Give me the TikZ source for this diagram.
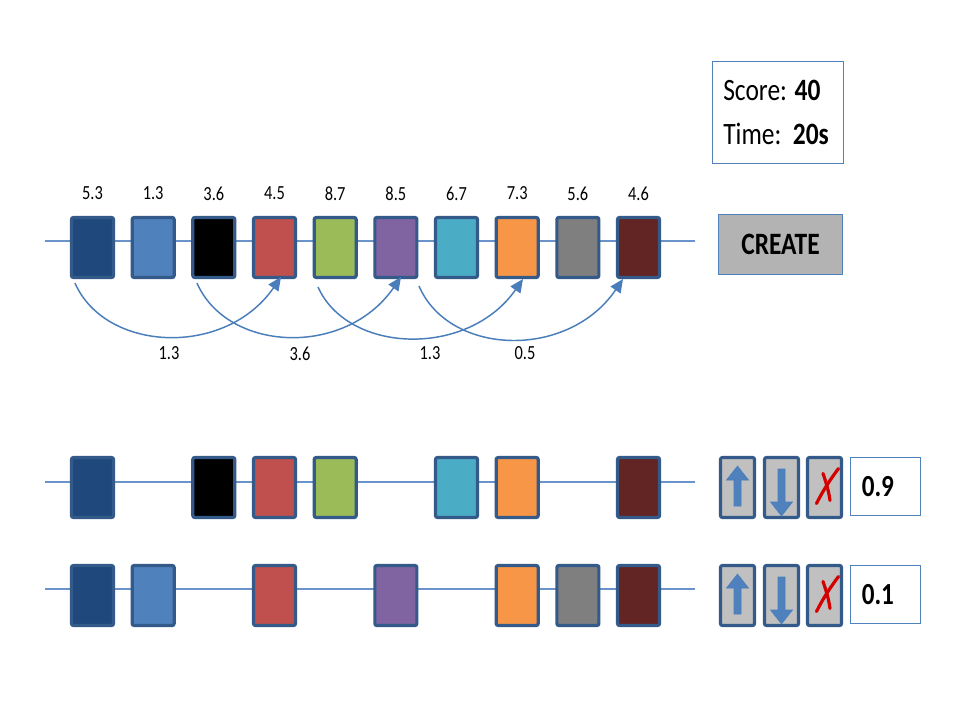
\documentclass[tikz,border=0pt]{standalone}
\usepackage{fontspec}
\usepackage{graphicx}
\setmainfont{Carlito}
\usetikzlibrary{arrows.meta}
\newcommand{\cnd}[1]{\scalebox{0.82}[1]{#1}}
\definecolor{cA}{HTML}{1F497D}
\definecolor{cB}{HTML}{4F81BD}
\definecolor{cC}{HTML}{000000}
\definecolor{cD}{HTML}{C0504D}
\definecolor{cE}{HTML}{9BBB59}
\definecolor{cF}{HTML}{8064A2}
\definecolor{cG}{HTML}{4BACC6}
\definecolor{cH}{HTML}{F79646}
\definecolor{cI}{HTML}{7F7F7F}
\definecolor{cJ}{HTML}{632523}
\definecolor{cellborder}{HTML}{345A8A}
\definecolor{trackcol}{HTML}{6A93CB}
\definecolor{arccol}{HTML}{4A7EBB}
\definecolor{panelborder}{HTML}{4F81BD}
\definecolor{btnfill}{HTML}{C0C0C0}
\definecolor{creategray}{HTML}{B3B3B3}
\definecolor{xred}{HTML}{D40000}
\tikzset{
  cell/.style={draw=cellborder, line width=2.4pt, rounded corners=1.5pt,
    minimum width=31.5pt, minimum height=45pt, inner sep=0pt},
  track/.style={draw=trackcol, line width=1.1pt},
  lbl/.style={font=\fontsize{15}{17}\selectfont, inner sep=0pt},
  jump/.style={draw=arccol, line width=1.1pt, -{Triangle[length=10pt,width=9pt]}},
  btn/.style={draw=cellborder, fill=btnfill, line width=2.4pt, rounded corners=1.5pt,
    minimum width=25.5pt, minimum height=45pt, inner sep=0pt},
  valbox/.style={draw=panelborder, line width=0.7pt, minimum width=52.5pt,
    minimum height=44pt, inner sep=0pt},
  bluearrow/.style={fill=cB, draw=arccol, line width=0.4pt},
  xmark/.style={draw=xred, line width=2.4pt, line cap=round},
  bigtxt/.style={inner sep=0pt, font=\fontsize{23.3}{27}\selectfont},
}
\begin{document}
\begin{tikzpicture}[x=0.75pt,y=-0.75pt]
\fill[white] (0,0) rectangle (964,722);
\useasboundingbox (0,0) rectangle (964,722);

% ---------- top row ----------
\coordinate (ts) at (45,241);
\coordinate (te) at (695,241);
\draw[track] (ts) -- (te);
\foreach \i/\c/\v in {0/cA/5.3,1/cB/1.3,2/cC/3.6,3/cD/4.5,4/cE/8.7,5/cF/8.5,6/cG/6.7,7/cH/7.3,8/cI/5.6,9/cJ/4.6}{
  \pgfmathsetmacro{\xx}{92.5+60.67*\i}
  \node[cell, fill=\c] (t\i) at (\xx,247.5) {};
  \node[lbl] (tl\i) at (\xx,193.5) {\cnd{\v}};
}

% ---------- jumps ----------
\coordinate (a1s) at (75,283);  \coordinate (a1e) at (281,277);
\coordinate (a2s) at (197,283); \coordinate (a2e) at (401,277);
\coordinate (a3s) at (318,287); \coordinate (a3e) at (523,279);
\coordinate (a4s) at (419,286); \coordinate (a4e) at (623,279);
\draw[jump] (a1s) .. controls (105,352) and (225,358) .. (a1e);
\draw[jump] (a2s) .. controls (227,352) and (345,358) .. (a2e);
\draw[jump] (a3s) .. controls (348,354) and (468,358) .. (a3e);
\draw[jump] (a4s) .. controls (449,356) and (568,360) .. (a4e);
\node[lbl] (j1) at (169,353.5) {\cnd{1.3}};
\node[lbl] (j2) at (300,353.5) {\cnd{3.6}};
\node[lbl] (j3) at (430,353.5) {\cnd{1.3}};
\node[lbl] (j4) at (525,353.5) {\cnd{0.5}};

% ---------- score / create ----------
\node[draw=panelborder, line width=0.7pt, minimum width=98.25pt, minimum height=76.5pt, inner sep=0pt] (score) at (777.5,112) {};
\node[bigtxt, anchor=base west] (scoretxt) at (723,100) {\cnd{Score: \textbf{40}}};
\node[bigtxt, anchor=base west] (timetxt) at (723,144) {\cnd{Time:\ \ \textbf{20s}}};
\node[draw=panelborder, fill=creategray, line width=0.7pt, minimum width=93pt, minimum height=45pt, inner sep=0pt,
  font=\bfseries\fontsize{23.3}{27}\selectfont] (create) at (780.5,244.8) {\cnd{CREATE}};

% ---------- row 2 ----------
\coordinate (r2s) at (45,482);
\coordinate (r2e) at (695,482);
\draw[track] (r2s) -- (r2e);
\foreach \i/\c in {0/cA,2/cC,3/cD,4/cE,6/cG,7/cH,9/cJ}{
  \pgfmathsetmacro{\xx}{92.5+60.67*\i}
  \node[cell, fill=\c] (m\i) at (\xx,487.5) {};
}

% ---------- row 3 ----------
\coordinate (r3s) at (45,589);
\coordinate (r3e) at (695,589);
\draw[track] (r3s) -- (r3e);
\foreach \i/\c in {0/cA,1/cB,3/cD,5/cF,7/cH,8/cI,9/cJ}{
  \pgfmathsetmacro{\xx}{92.5+60.67*\i}
  \node[cell, fill=\c] (n\i) at (\xx,595.5) {};
}

% ---------- buttons ----------
\foreach \r/\yy/\val in {a/487.5/0.9, b/595.5/0.1}{
  \node[btn] (up\r) at (737.5,\yy) {};
  \node[btn] (dn\r) at (781.5,\yy) {};
  \node[btn] (x\r) at (824.5,\yy) {};
  \node[valbox] (v\r) at (885,\yy-1) {};
  \node[anchor=west, inner sep=0pt, font=\bfseries\fontsize{23}{27}\selectfont] (vt\r) at (861.5,\yy-1) {\cnd{\val}};
  \fill[bluearrow] ([shift={(0,-21.5)}]up\r.center) -- ([shift={(11,-7.5)}]up\r.center) -- ([shift={(3.5,-7.5)}]up\r.center)
     -- ([shift={(3.5,18.5)}]up\r.center) -- ([shift={(-3.5,18.5)}]up\r.center) -- ([shift={(-3.5,-7.5)}]up\r.center)
     -- ([shift={(-11,-7.5)}]up\r.center) -- cycle;
  \fill[bluearrow] ([shift={(0,28.5)}]dn\r.center) -- ([shift={(11,14.5)}]dn\r.center) -- ([shift={(3.5,14.5)}]dn\r.center)
     -- ([shift={(3.5,-18.5)}]dn\r.center) -- ([shift={(-3.5,-18.5)}]dn\r.center) -- ([shift={(-3.5,14.5)}]dn\r.center)
     -- ([shift={(-11,14.5)}]dn\r.center) -- cycle;
  \draw[xmark] ([shift={(14,-19)}]x\r.center) .. controls ([shift={(5,-7)}]x\r.center) and ([shift={(-2,4)}]x\r.center) .. ([shift={(-8,16)}]x\r.center);
  \draw[xmark] ([shift={(-1.5,-14)}]x\r.center) .. controls ([shift={(2,-4)}]x\r.center) and ([shift={(4.5,5)}]x\r.center) .. ([shift={(5.5,13)}]x\r.center);
}
\end{tikzpicture}
\end{document}
